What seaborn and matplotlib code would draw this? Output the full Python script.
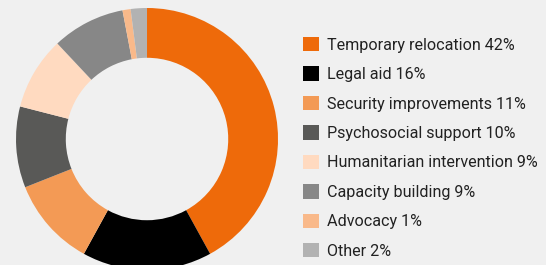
import matplotlib

matplotlib.use("Agg")
import matplotlib.pyplot as plt
import seaborn as sns
from matplotlib.patches import Patch

# _______________________________________________________________________________________________________________________

categories = [
    "Temporary relocation",
    "Legal aid",
    "Security improvements",
    "Psychosocial support",
    "Humanitarian intervention",
    "Capacity building",
    "Advocacy",
    "Other",
]
shares = [42, 16, 11, 10, 9, 9, 1, 2]
colors = [
    "#ee6a0a",
    "#000000",
    "#f39a55",
    "#595957",
    "#ffdac0",
    "#878787",
    "#f9b98a",
    "#b2b2b2",
]
labels = [f"{c} {s}%" for c, s in zip(categories, shares)]

BG = "#f0f0f0"

# _______________________________________________________________________________________________________________________


def plot_donut():
    sns.set_theme(style="white")
    plt.rcParams["font.family"] = ["Roboto", "DejaVu Sans"]

    fig = plt.figure(figsize=(5.46, 2.65), dpi=100, facecolor=BG)
    ax = fig.add_axes([0.0293, -0.0189, 0.4799, 0.9887])
    ax.set_facecolor(BG)

    ax.pie(
        shares,
        colors=sns.color_palette(colors),
        startangle=90,
        counterclock=False,
        radius=1,
        wedgeprops=dict(width=0.38, linewidth=0),
    )
    ax.set_xlim(-1, 1)
    ax.set_ylim(-1, 1)
    ax.set_aspect("equal")
    ax.axis("off")

    handles = [Patch(facecolor=c, edgecolor="none") for c in colors]
    fig.legend(
        handles,
        labels,
        loc="upper left",
        bbox_to_anchor=(0.528, 0.915),
        frameon=False,
        fontsize=11.6,
        handlelength=1.0,
        handleheight=1.0,
        handletextpad=0.5,
        labelspacing=0.85,
        labelcolor="#222222",
    )

    fig.savefig("out.png", dpi=100, facecolor=BG)


# _______________________________________________________________________________________________________________________

plot_donut()
